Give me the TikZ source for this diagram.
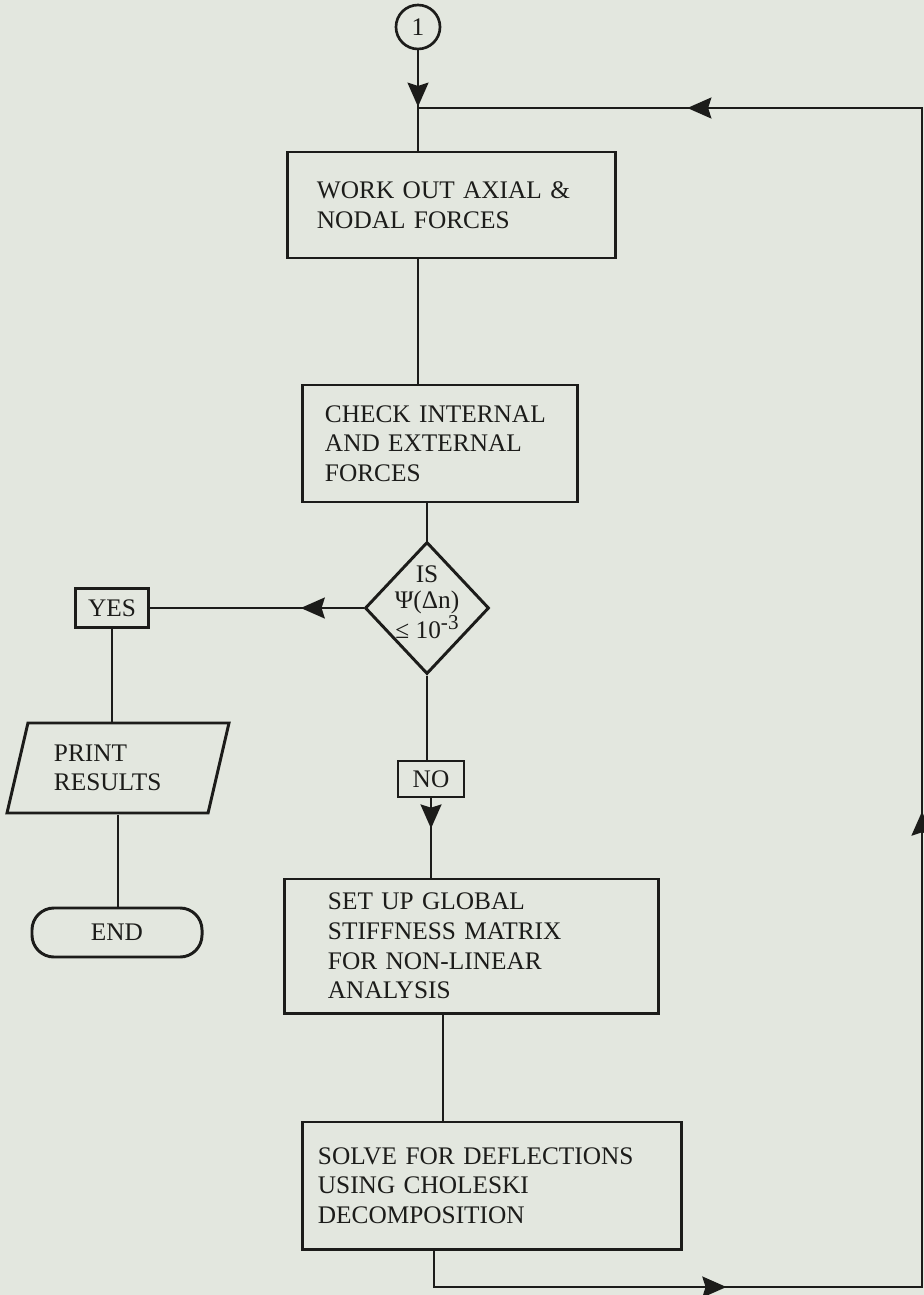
\documentclass[tikz,border=0pt]{standalone}
\usepackage{fontspec}
\setmainfont{Liberation Serif}
\usetikzlibrary{arrows.meta,shapes.geometric,decorations.markings}
\definecolor{paper}{RGB}{227,231,223}
\definecolor{ink}{RGB}{28,28,26}

\begin{document}
\begin{tikzpicture}[x=0.025cm,y=-0.025cm,>={Stealth[length=6mm,width=5.2mm,inset=0.8mm]},
 every node/.style={font=\fontsize{18pt}{21pt}\selectfont,text=ink},
 proc/.style={draw=ink,line width=2.1pt,align=left,inner ysep=0pt},
 decision/.style={draw=ink,line width=2.1pt,diamond,inner sep=0pt,minimum width=3.1cm,minimum height=3.3cm},
 io/.style={draw=ink,line width=2.1pt,trapezium,trapezium left angle=74,trapezium right angle=106,
  trapezium stretches=true,align=left,text width=3.2cm,minimum width=5.55cm,minimum height=2.25cm},
 term/.style={draw=ink,line width=2.1pt,rounded corners=5.5mm,minimum width=4.25cm,minimum height=1.225cm},
 tag/.style={draw=ink,line width=2.1pt,inner sep=0pt},
 wire/.style={draw=ink,line width=2.1pt},
 arr/.style={postaction={decorate,decoration={markings,mark=at position #1 with {\arrow{>}}}}}]
\useasboundingbox (0,0) rectangle (924,1295);
\fill[paper] (0,0) rectangle (924,1295);
\node[draw=ink,line width=1.9pt,circle,minimum size=1.1cm,inner sep=0pt] (start) at (418,27) {1};
\node[proc,text width=6.725cm,inner xsep=7.25mm,minimum height=2.65cm] (forces) at (451.5,205) {WORK OUT AXIAL \&\\NODAL FORCES};
\node[proc,text width=5.75cm,inner xsep=5.5mm,minimum height=2.925cm] (check) at (440,443.5) {CHECK INTERNAL\\AND EXTERNAL\\FORCES};
\node[decision,label={[align=center,yshift=1.5mm,font=\fontsize{18pt}{19pt}\selectfont]center:IS\\Ψ(Δn)\\≤ 10\raisebox{6.4pt}{\fontsize{15pt}{15pt}\selectfont -3}}] (test) at (427,608) {};
\node[tag,minimum width=1.825cm,minimum height=9.75mm] (yes) at (112,608) {YES};
\node[io] (print) at (118,768) {PRINT\\RESULTS};
\node[term] (stop) at (117,932.5) {END};
\node[tag,minimum width=1.65cm,minimum height=9mm] (no) at (431,779) {NO};
\node[proc,text width=7.175cm,inner xsep=10.75mm,minimum height=3.35cm] (stiff) at (471.5,946) {SET UP GLOBAL\\STIFFNESS MATRIX\\FOR NON-LINEAR\\ANALYSIS};
\node[proc,text width=8.7cm,inner xsep=3.75mm,minimum height=3.175cm] (solve) at (492,1185.5) {SOLVE FOR DEFLECTIONS\\USING CHOLESKI\\DECOMPOSITION};
\coordinate (colA) at (443,0);
\coordinate (colB) at (434,0);
\coordinate (rb) at (922,1287);
\coordinate (rt) at (922,108);
\draw[wire,arr=0.563] (start) -- (start |- forces.north);
\draw[wire] (forces.south -| start) -- (check.north -| start);
\draw[wire] (check.south -| test) -- (test.north);
\draw[wire,arr=0.294] (test.west) -- (yes.east);
\draw[wire] (yes.south) -- (yes.south |- print.north);
\draw[wire] (print.south) -- (print.south |- stop.north);
\draw[wire] (test.south) -- (test.south |- no.north);
\draw[wire,arr=0.38] (no.south) -- (no.south |- stiff.north);
\draw[wire] (stiff.south -| colA) -- (solve.north -| colA);
\draw[wire,arr=0.149,arr=0.453,arr=0.878] (solve.south -| colB) -- (colB |- rb) -- (rb) -- (rt) -- (rt -| start);
\end{tikzpicture}
\end{document}
